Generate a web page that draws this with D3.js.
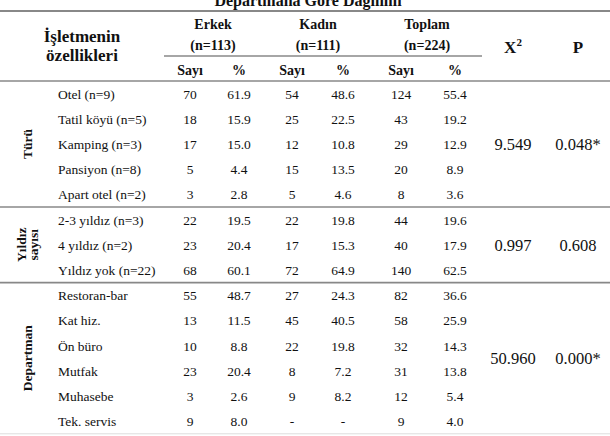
<!DOCTYPE html>
<html>
  <head>
    <style>
      body { margin: 0; background: #fff; }
      text { font-family: 'Liberation Serif', 'Times New Roman', serif; fill: #111; }
      .b { font-weight: bold; }
    </style>
  </head>

  <body>

    <svg class="surface" width="610" height="436"></svg>

    <script src="https://cdn.jsdelivr.net/npm/d3@7/dist/d3.min.js" charset="utf-8"></script>
    <script>

      // rows, top to bottom
      const rowLabels = [
        'Otel (n=9)', 'Tatil köyü (n=5)', 'Kamping (n=3)', 'Pansiyon (n=8)', 'Apart otel (n=2)',
        '2-3 yıldız (n=3)', '4 yıldız (n=2)', 'Yıldız yok (n=22)',
        'Restoran-bar', 'Kat hiz.', 'Ön büro', 'Mutfak', 'Muhasebe', 'Tek. servis'
      ]
      const erkekSayi  = [70, 18, 17, 5, 3, 22, 23, 68, 55, 13, 10, 23, 3, 9]
      const erkekPct   = [61.9, 15.9, 15.0, 4.4, 2.8, 19.5, 20.4, 60.1, 48.7, 11.5, 8.8, 20.4, 2.6, 8.0]
      const kadinSayi  = [54, 25, 12, 15, 5, 22, 17, 72, 27, 45, 22, 8, 9, null]
      const kadinPct   = [48.6, 22.5, 10.8, 13.5, 4.6, 19.8, 15.3, 64.9, 24.3, 40.5, 19.8, 7.2, 8.2, null]
      const toplamSayi = [124, 43, 29, 20, 8, 44, 40, 140, 82, 58, 32, 31, 12, 9]
      const toplamPct  = [55.4, 19.2, 12.9, 8.9, 3.6, 19.6, 17.9, 62.5, 36.6, 25.9, 14.3, 13.8, 5.4, 4.0]

      // sections
      const sectionNames = [['Türü'], ['Yıldız', 'sayısı'], ['Departman']]
      const sectionSizes = [5, 3, 6]
      const chiSquare = ['9.549', '0.997', '50.960']
      const pValues = ['0.048*', '0.608', '0.000*']

      // header
      const groups = ['Erkek', 'Kadın', 'Toplam']
      const groupN = ['(n=113)', '(n=111)', '(n=224)']
      const subHeads = ['Sayı', '%']

      const columns = [
        { key: 'eS', vals: erkekSayi, pct: false },
        { key: 'eP', vals: erkekPct, pct: true },
        { key: 'kS', vals: kadinSayi, pct: false },
        { key: 'kP', vals: kadinPct, pct: true },
        { key: 'tS', vals: toplamSayi, pct: false },
        { key: 'tP', vals: toplamPct, pct: true }
      ]

      const svg = d3.select('.surface')

      const x = d3.scaleOrdinal()
        .domain(columns.map(c => c.key))
        .range([190, 239, 292, 343, 401, 455])
      const xGroup = d3.scaleOrdinal().domain(groups).range([213, 318, 427])
      const xChi = 513, xP = 578, xLabel = 58

      const headTop = 11, headBottom = 81, rowH = 25.2
      const y = d3.scaleLinear().domain([0, rowLabels.length]).range([headBottom, headBottom + rowLabels.length * rowH])

      // title (cut off at the top)
      svg.append('text').attr('class', 'b')
        .attr('x', 308).attr('y', 6)
        .attr('text-anchor', 'middle').style('font-size', '16px')
        .text('Departmana Göre Dağılımı')

      // rules
      const rule = (y0, x0, x1, w, c) => svg.append('line')
        .attr('x1', x0).attr('x2', x1).attr('y1', y0).attr('y2', y0)
        .attr('stroke', c).attr('stroke-width', w)

      rule(headTop, 0, 610, 2, '#888')
      rule(56, 164, 482, 1.6, '#888')
      rule(headBottom, 0, 610, 1.6, '#888')

      // header text
      const hd = svg.append('g')
      hd.append('text').attr('class', 'b')
        .attr('x', 82).attr('y', 42).attr('text-anchor', 'middle')
        .style('font-size', '17px').text('İşletmenin')
      hd.append('text').attr('class', 'b')
        .attr('x', 82).attr('y', 61).attr('text-anchor', 'middle')
        .style('font-size', '17px').text('özellikleri')

      hd.selectAll('.g1').data(groups).enter().append('text')
        .attr('class', 'b').attr('x', d => xGroup(d)).attr('y', 29)
        .attr('text-anchor', 'middle').style('font-size', '14px').text(d => d)
      hd.selectAll('.g2').data(groupN).enter().append('text')
        .attr('class', 'b').attr('x', (d, i) => xGroup(groups[i])).attr('y', 50)
        .attr('text-anchor', 'middle').style('font-size', '14px').text(d => d)
      hd.selectAll('.sub').data(columns).enter().append('text')
        .attr('class', 'b').attr('x', d => x(d.key)).attr('y', 75)
        .attr('text-anchor', 'middle').style('font-size', '14px')
        .text(d => d.pct ? subHeads[1] : subHeads[0])

      const chiHead = hd.append('text').attr('class', 'b')
        .attr('x', xChi).attr('y', 53).attr('text-anchor', 'middle').style('font-size', '17px')
      chiHead.append('tspan').text('X')
      chiHead.append('tspan').attr('dy', -7).style('font-size', '11px').text('2')
      hd.append('text').attr('class', 'b')
        .attr('x', xP).attr('y', 53).attr('text-anchor', 'middle')
        .style('font-size', '17px').text('P')

      // body rows
      const body = svg.append('g')
      body.selectAll('.lab').data(rowLabels).enter().append('text')
        .attr('x', xLabel).attr('y', (d, i) => y(i + 0.5) + 5)
        .style('font-size', '13.5px').text(d => d)

      columns.forEach(col => {
        body.selectAll('.c-' + col.key).data(col.vals).enter().append('text')
          .attr('x', x(col.key)).attr('y', (d, i) => y(i + 0.5) + 5)
          .attr('text-anchor', 'middle').style('font-size', '13.5px')
          .text(d => d == null ? '-' : (col.pct ? d.toFixed(1) : d))
      })

      // sections: side labels, test values, rules
      let start = 0
      sectionSizes.forEach((n, s) => {
        const y0 = y(start), y1 = y(start + n), mid = (y0 + y1) / 2
        const lines = sectionNames[s]
        lines.forEach((t, j) => {
          const cx = 27 + (j - (lines.length - 1) / 2) * 12
          svg.append('text').attr('class', 'b')
            .attr('transform', `translate(${cx + 5},${mid}) rotate(-90)`)
            .attr('text-anchor', 'middle').style('font-size', '13.5px').text(t)
        })
        svg.append('text').attr('x', xChi).attr('y', mid + 6)
          .attr('text-anchor', 'middle').style('font-size', '16.5px').text(chiSquare[s])
        svg.append('text').attr('x', xP).attr('y', mid + 6)
          .attr('text-anchor', 'middle').style('font-size', '16.5px').text(pValues[s])
        if (s < sectionSizes.length - 1) rule(y1, 0, 610, 1.6, '#888')
        else rule(y1, 0, 610, 1, '#ddd')
        start += n
      })

    </script>
  </body>

</html>
